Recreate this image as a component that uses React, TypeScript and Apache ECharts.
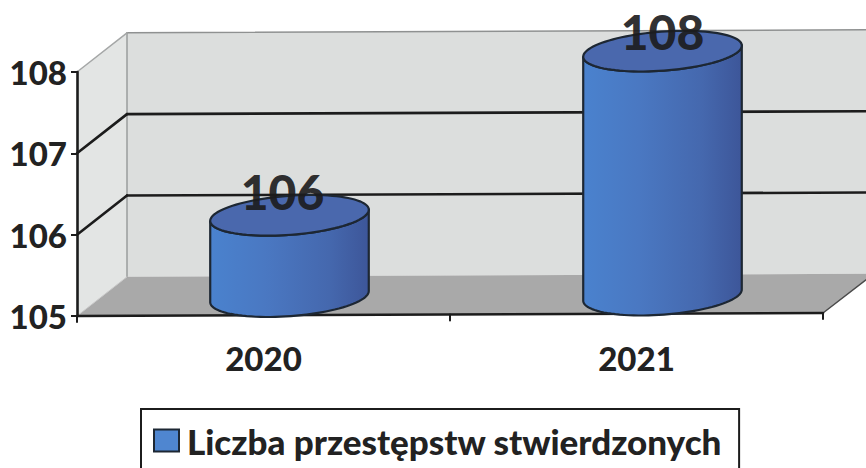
import React, { useEffect, useRef } from "react";
import * as echarts from "echarts";

const categories = ["2020", "2021"];
const values = [106, 108];
const gridValues = [106, 107];
const seriesName = "Liczba przestępstw stwierdzonych";

const FONT = "Lato, 'Open Sans', sans-serif";
const DEPTH_X = 50;
const DEPTH_Y = -39;
const SKEW = 0.004;
const RIGHT_EDGE = 866;

export default function App() {
  const ref = useRef<HTMLDivElement>(null);
  useEffect(() => {
    if (!ref.current) return;
    const chart = echarts.init(ref.current, undefined, { renderer: "svg" });

    const renderFrame = (params: any, api: any) => {
      const cs = params.coordSys;
      const left = cs.x;
      const right = cs.x + cs.width;
      const top = cs.y;
      const bottom = cs.y + cs.height;
      const sk = (x: number, y: number) => [x, y - (x - left) * SKEW];
      const bx = left + DEPTH_X;
      const children: any[] = [];
      const poly = (points: number[][], fill: string, stroke?: string, lw = 1) => ({
        type: "polygon",
        shape: { points },
        style: { fill, stroke: stroke || "none", lineWidth: lw },
      });
      const line = (a: number[], b: number[], stroke: string, lineWidth: number) => ({
        type: "line",
        shape: { x1: a[0], y1: a[1], x2: b[0], y2: b[1] },
        style: { stroke, lineWidth, lineCap: "round" },
      });
      // back wall
      children.push(
        poly(
          [sk(bx, top + DEPTH_Y), sk(RIGHT_EDGE, top + DEPTH_Y), sk(RIGHT_EDGE, bottom + DEPTH_Y), sk(bx, bottom + DEPTH_Y)],
          "#dcdedd"
        )
      );
      // side wall
      children.push(
        poly([[left, bottom], [left, top], sk(bx, top + DEPTH_Y), sk(bx, bottom + DEPTH_Y)], "#e3e5e4")
      );
      // floor
      children.push(
        poly(
          [[left, bottom], sk(bx, bottom + DEPTH_Y), sk(RIGHT_EDGE, bottom + DEPTH_Y), sk(RIGHT_EDGE, bottom - 33), sk(right, bottom)],
          "#a9a9a9"
        )
      );
      // wall edges
      children.push(line(sk(bx, top + DEPTH_Y), sk(bx, bottom + DEPTH_Y), "#9a9c9c", 1.5));
      children.push(line(sk(bx, top + DEPTH_Y), sk(RIGHT_EDGE, top + DEPTH_Y), "#8f9191", 1.5));
      children.push(line([left, top], sk(bx, top + DEPTH_Y), "#a5a7a7", 1.5));
      children.push(line([left, bottom], sk(bx, bottom + DEPTH_Y), "#c9c9c9", 1));
      children.push(line(sk(right, bottom), sk(RIGHT_EDGE, bottom - 33), "#4a4a4a", 1.5));
      // grid lines
      gridValues.forEach((v) => {
        const y = api.coord([0, v])[1];
        children.push(line([left, y], sk(bx, y + DEPTH_Y), "#1c1c1c", 2.6));
        children.push(line(sk(bx, y + DEPTH_Y), sk(RIGHT_EDGE, y + DEPTH_Y), "#1c1c1c", 2.6));
      });
      // front axis with its ticks
      children.push(line([left, bottom], sk(right, bottom), "#1c1c1c", 2.6));
      [left, (left + right) / 2, right].forEach((x) => {
        const p = sk(x, bottom);
        children.push(line(p, [p[0], p[1] + 6], "#1c1c1c", 2));
      });
      return { type: "group", children };
    };

    const renderCylinder = (params: any, api: any) => {
      const cs = params.coordSys;
      const base = api.coord([api.value(0), 105]);
      const head = api.coord([api.value(0), api.value(1)]);
      const cx = base[0] + 26;
      const drop = (cx - cs.x) * SKEW;
      const by = base[1] - 18.5 - drop;
      const ty = head[1] - 18.5 - drop;
      const a = 79.5;
      const b = 19.5;
      const th = (-4.3 * Math.PI) / 180;
      const pt = (yc: number, t: number) => [
        cx + a * Math.cos(t) * Math.cos(th) - b * Math.sin(t) * Math.sin(th),
        yc + a * Math.cos(t) * Math.sin(th) + b * Math.sin(t) * Math.cos(th),
      ];
      const side: number[][] = [];
      const cap: number[][] = [];
      const N = 48;
      for (let i = 0; i <= N; i++) side.push(pt(by, (Math.PI * i) / N));
      for (let i = N; i >= 0; i--) side.push(pt(ty, (Math.PI * i) / N));
      for (let i = 0; i < N * 2; i++) cap.push(pt(ty, (Math.PI * i) / N));
      const isFirst = params.dataIndex === 0;
      return {
        type: "group",
        children: [
          {
            type: "polygon",
            shape: { points: side },
            style: {
              fill: new echarts.graphic.LinearGradient(0, 0, 1, 0, [
                { offset: 0, color: "#4a82ce" },
                { offset: 0.35, color: "#4a78c2" },
                { offset: 0.75, color: "#4568ae" },
                { offset: 1, color: "#3d5699" },
              ]),
              stroke: "#1d2733",
              lineWidth: 2.2,
              lineJoin: "round",
            },
          },
          {
            type: "polygon",
            shape: { points: cap },
            style: { fill: "#4a68ad", stroke: "#1d2733", lineWidth: 2.2 },
          },
          {
            type: "text",
            style: {
              text: String(api.value(1)),
              x: cx + (isFirst ? -7 : 0),
              y: ty + (isFirst ? -24 : -20),
              fill: "rgba(28,28,30,0.92)",
              font: `900 48px ${FONT}`,
              align: "center",
              verticalAlign: "middle",
            },
          },
        ],
      };
    };

    chart.setOption({
      animation: false,
      backgroundColor: "#ffffff",
      grid: { left: 77, top: 72, width: 746, height: 244, containLabel: false },
      xAxis: {
        type: "category",
        data: categories,
        axisLine: { show: false },
        axisTick: { show: false },
        splitLine: { show: false },
        axisLabel: {
          margin: 25,
          color: "#222",
          fontFamily: FONT,
          fontWeight: 900,
          fontSize: 33,
        },
      },
      yAxis: {
        type: "value",
        min: 105,
        max: 108,
        interval: 1,
        splitLine: { show: false },
        axisLine: { show: true, onZero: false, lineStyle: { color: "#1c1c1c", width: 2.6 } },
        axisTick: { show: true, length: 6, lineStyle: { color: "#1c1c1c", width: 2 } },
        axisLabel: {
          margin: 10,
          color: "#222",
          fontFamily: FONT,
          fontWeight: 900,
          fontSize: 33,
        },
        z: 5,
      },
      legend: {
        left: 141,
        top: 409,
        orient: "horizontal",
        padding: [14, 17, 40, 12],
        borderColor: "#1c1c1c",
        borderWidth: 2,
        itemWidth: 25,
        itemHeight: 22,
        selectedMode: false,
        data: [
          {
            name: seriesName,
            icon: "rect",
            itemStyle: { color: "#4f86d0", borderColor: "#1d2733", borderWidth: 2 },
          },
        ],
        textStyle: {
          color: "#222",
          fontFamily: FONT,
          fontWeight: 900,
          fontSize: 35,
          padding: [0, 0, 0, 3],
        },
      },
      series: [
        {
          type: "custom",
          name: "frame",
          renderItem: renderFrame,
          data: [[0, 105]],
          z: 1,
          silent: true,
        },
        {
          type: "custom",
          name: seriesName,
          renderItem: renderCylinder,
          encode: { x: 0, y: 1 },
          itemStyle: { color: "#4f86d0" },
          data: categories.map((_, i) => [i, values[i]]),
          z: 3,
        },
      ],
    });
    return () => chart.dispose();
  }, []);
  return (
    <div
      ref={ref}
      style={{ position: "absolute", left: 0, top: 0, width: 866, height: 468 }}
    />
  );
}
